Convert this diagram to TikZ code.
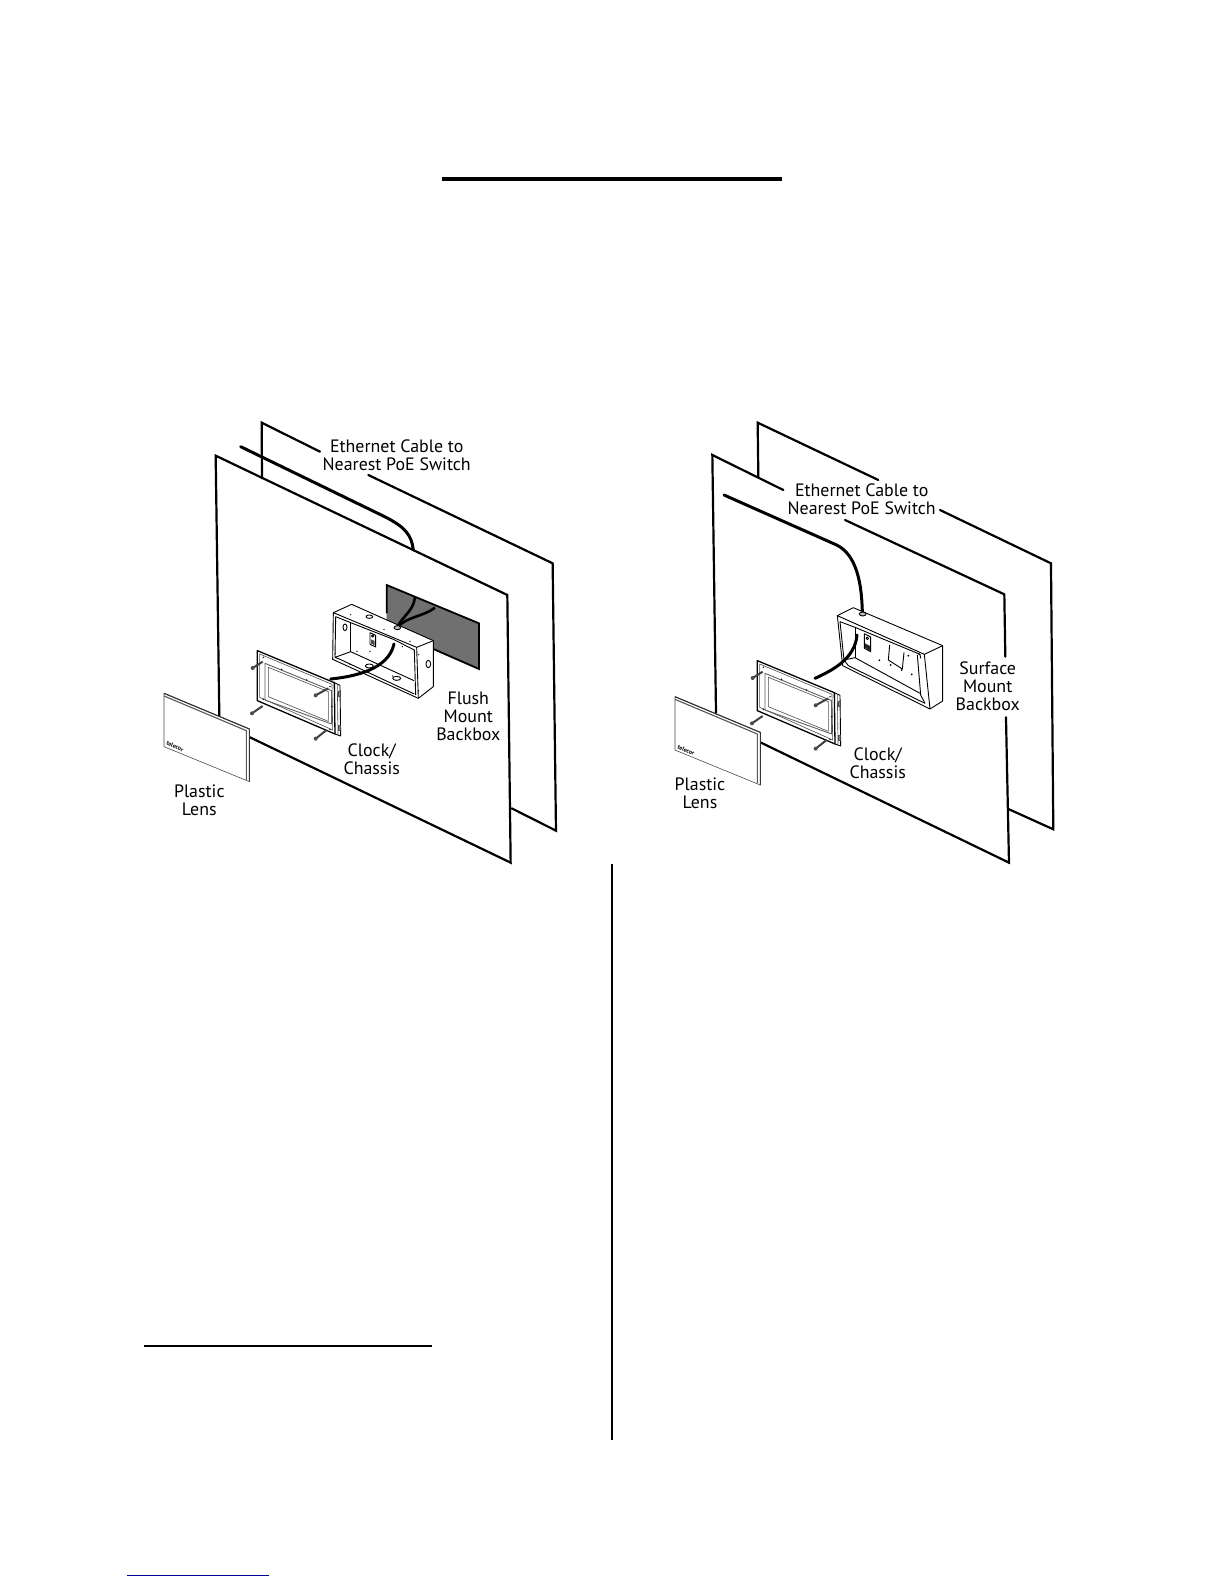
\documentclass[tikz,border=0pt]{standalone}
\usepackage{fontspec}
\setmainfont{PT Sans}
\definecolor{wallgrey}{RGB}{112,112,112}
\definecolor{footblue}{RGB}{0,0,150}
\tikzset{
  wall/.style={line width=1.1pt,line join=miter,line cap=round},
  cable/.style={line width=1.5pt,line cap=round},
  thin part/.style={line width=0.45pt,line join=round},
  fine part/.style={line width=0.3pt,line join=round,gray!60!black},
  rulebar/.style={line cap=butt},
  lab/.style={align=center,inner sep=0pt,font=\fontsize{8.95}{9.2}\selectfont},
}
% chassis in zoom coordinates, 3 units = 1 px
\newcommand{\chassisdraw}{%
  \fill[white] (322,212)--(570,315)--(572,468)--(322,360)--cycle;
  \draw[thin part,line width=0.65pt] (322,212)--(553,308)--(555,462)--(322,362)--cycle;
  \draw[fine part] (329,222)--(546,313)--(548,450)--(329,352)--cycle;
  \draw[thin part,gray!75!black] (345,250)--(545,332)--(545,432)--(345,360)--cycle;
  \draw[fine part] (355,262)--(535,335)--(535,424)--(355,350)--cycle;
  \draw[thin part] (553,308)--(570,316)--(572,468)--(555,462);
  \draw[fine part] (562,312)--(564,465);
  \draw[fine part,fill=gray] (566,335) rectangle (572,350);
  \draw[fine part,fill=gray] (566,435) rectangle (572,450);
  \foreach \sx/\sy/\ex/\ey in {338/245/308/264,535/325/497/346,338/378/306/400,530/450/497/476}{
    \draw[line width=1pt,gray!50!black] (\sx,\sy)--(\ex,\ey);
    \fill[gray!60!black] (\ex,\ey) circle (6);
  }
  \foreach \px/\py in {340/232,340/358,540/320,540/448,395/268,470/300,545/380}{
    \fill (\px,\py) circle (2.4);
  }
}
\newcommand{\lensdraw}{%
  \fill[white] (0,0)--(256,107)--(256,265)--(0,160)--cycle;
  \draw[fine part] (0,0)--(256,107)--(256,265)--(0,160)--cycle;
  \draw[fine part,line width=0.55pt,gray!70!black] (0,8)--(247,112)--(247,260);
  \draw[line width=0.55pt,gray!40!black] (0,0)--(256,107)--(256,265);
  \node[inner sep=0pt,rotate=-24,font=\fontsize{3}{3}\selectfont\bfseries] (\lensname) at (33,160) {telecor};
}
\begin{document}
\begin{tikzpicture}[x=0.5pt,y=-0.5pt]
\useasboundingbox (0,0) rectangle (1224,1584);
\fill[white] (0,0) rectangle (1224,1584);

% page rules
\draw[rulebar,line width=2pt] (442,179)--(782,179);
\draw[rulebar,line width=1pt] (144,1346)--(432,1346);
\draw[rulebar,line width=1pt] (612,864)--(612,1440);
\draw[rulebar,line width=0.6pt,footblue] (127,1575.5)--(269,1575.5);

% ---------- LEFT ----------
\begin{scope}[shift={(150,410)},x=0.5pt/3,y=-0.5pt/3]
  \draw[wall] (336,205)--(335,38)--(510,125);
  \draw[wall] (655,195)--(1208,460)--(1218,1262)--(1085,1195);
  \draw[cable] (272,110)--(700,318) .. controls (765,350) and (785,375) .. (790,420);
  \draw[wall] (208,918)--(197,137)--(1072,555)--(1082,1358)--(300,982);
\end{scope}

% left wall hole and flush box, 3 units = 1 px
\begin{scope}[shift={(320,570)},x=0.5pt/3,y=-0.5pt/3]
  \fill[wallgrey] (200,45)--(477,160)--(477,297)--(200,175)--cycle;
  \draw[line width=0.9pt] (340,237)--(477,297)--(477,160)--(200,45)--(200,130);
  \draw[cable,line width=1.3pt,line cap=butt] (232,172) .. controls (245,140) and (280,125) .. (285,82);
  \draw[cable,line width=1.3pt,line cap=butt] (232,172) .. controls (260,140) and (310,140) .. (345,113);
  \fill[white] (40,128)--(95,103)--(340,212)--(340,350)--(295,385)--(38,268)--cycle;
  \draw[thin part] (40,128)--(95,103)--(340,212)--(340,350)--(295,385)--(38,268)--cycle;
  \draw[thin part] (40,128)--(290,232)--(295,385);
  \draw[thin part] (290,232)--(340,212);
  \draw[thin part] (47,140)--(92,158)--(220,208)--(283,240)--(287,375);
  \draw[thin part] (47,140)--(45,262)--(92,245)--(282,332);
  \draw[thin part] (92,158)--(92,245);
  \draw[thin part] (45,262)--(60,268)--(283,372);
  \draw[thin part] (75,172) ellipse (6 and 10);
  \draw[thin part] (148,140) ellipse (10 and 5);
  \draw[thin part,fill=gray!50] (232,173) ellipse (10 and 6);
  \draw[thin part] (148,288) ellipse (12 and 6);
  \draw[thin part] (230,325) ellipse (12 and 6);
  \draw[thin part] (325,282) ellipse (7 and 11);
  \draw[thin part] (150,188)--(167,196)--(167,231)--(150,223)--cycle;
  \fill[gray!60!black] (153,208)--(164,213)--(164,226)--(153,221)--cycle;
  \draw[thin part] (158,198) circle (3.5);
  \foreach \px/\py in {45/252,111/244,92/134,192/178,270/214,296/254,247/230,90/283,218/318,295/362,150/244}{
    \fill (\px,\py) circle (2.2);
  }
  \draw[cable] (32,327) .. controls (100,320) and (205,300) .. (222,222);
\end{scope}

\begin{scope}[shift={(150,580)},x=0.5pt/3,y=-0.5pt/3]
  \chassisdraw
\end{scope}
\def\lensname{lensa}
\begin{scope}[shift={(164,693.3)},x=0.5pt/3,y=-0.5pt/3]
  \lensdraw
\end{scope}

\node[lab] (etha) at (396.7,455.2) {Ethernet Cable to\\Nearest PoE Switch};
\node[lab] (flush) at (468.3,716.3) {Flush\\Mount\\Backbox};
\node[lab] (clocka) at (371.7,759.2) {Clock/\\Chassis};
\node[lab] (plasta) at (199.3,800.2) {Plastic\\Lens};

% ---------- RIGHT ----------
\begin{scope}[shift={(650,410)},x=0.5pt/3,y=-0.5pt/3]
  \draw[wall] (325,200)--(323,38)--(685,210);
  \draw[wall] (870,300)--(1203,460)--(1210,1258)--(1075,1197);
  \draw[wall] (198,908)--(187,135)--(400,240);
  \draw[wall] (585,330)--(1063,553)--(1066,740);
  \draw[wall] (1068,922)--(1077,1358)--(333,998);
  \draw[cable] (222,255)--(560,405) .. controls (620,435) and (635,520) .. (637,605);
\end{scope}

% surface box
\begin{scope}[shift={(830,595)},x=0.5pt/3,y=-0.5pt/3]
  \fill[white] (22,62)--(70,38)--(338,152)--(338,318)--(300,342)--(38,212)--cycle;
  \draw[thin part] (22,62)--(70,38)--(338,152)--(338,318)--(300,342)--(38,212)--cycle;
  \draw[thin part] (22,62)--(283,178)--(300,342);
  \draw[thin part] (283,178)--(338,152);
  \draw[thin part] (30,80)--(75,97)--(270,178)--(272,190);
  \draw[thin part] (30,80)--(42,195)--(75,188)--(270,295);
  \draw[thin part] (75,97)--(75,188);
  \draw[thin part] (42,195)--(55,212)--(285,325);
  \draw[thin part] (262,180)--(272,300)--(285,325);
  \draw[thin part,fill=gray!50] (98,57) ellipse (10 and 6);
  \draw[thin part] (103,116)--(122,126)--(122,170)--(103,160)--cycle;
  \fill[gray!30!black] (105,145)--(120,153)--(120,168)--(105,158)--cycle;
  \draw[thin part] (112,130) circle (4);
  \draw[thin part] (179,150)--(175,195)--(217,222)--(222,172);
  \foreach \px/\py in {148/196,182/210,215/225,245/238,235/182,268/178}{
    \fill (\px,\py) circle (3);
  }
  \draw[cable] (-45,250) .. controls (10,225) and (75,190) .. (81,120);
\end{scope}

\begin{scope}[shift={(650,590)},x=0.5pt/3,y=-0.5pt/3]
  \chassisdraw
\end{scope}
\def\lensname{lensb}
\begin{scope}[shift={(675,696.7)},x=0.5pt/3,y=-0.5pt/3]
  \lensdraw
\end{scope}

\node[lab] (ethb) at (861.7,499.2) {Ethernet Cable to\\Nearest PoE Switch};
\node[lab] (surface) at (987.7,686.3) {Surface\\Mount\\Backbox};
\node[lab] (clockb) at (877.7,763.5) {Clock/\\Chassis};
\node[lab] (plastb) at (700,793.2) {Plastic\\Lens};
\end{tikzpicture}
\end{document}
